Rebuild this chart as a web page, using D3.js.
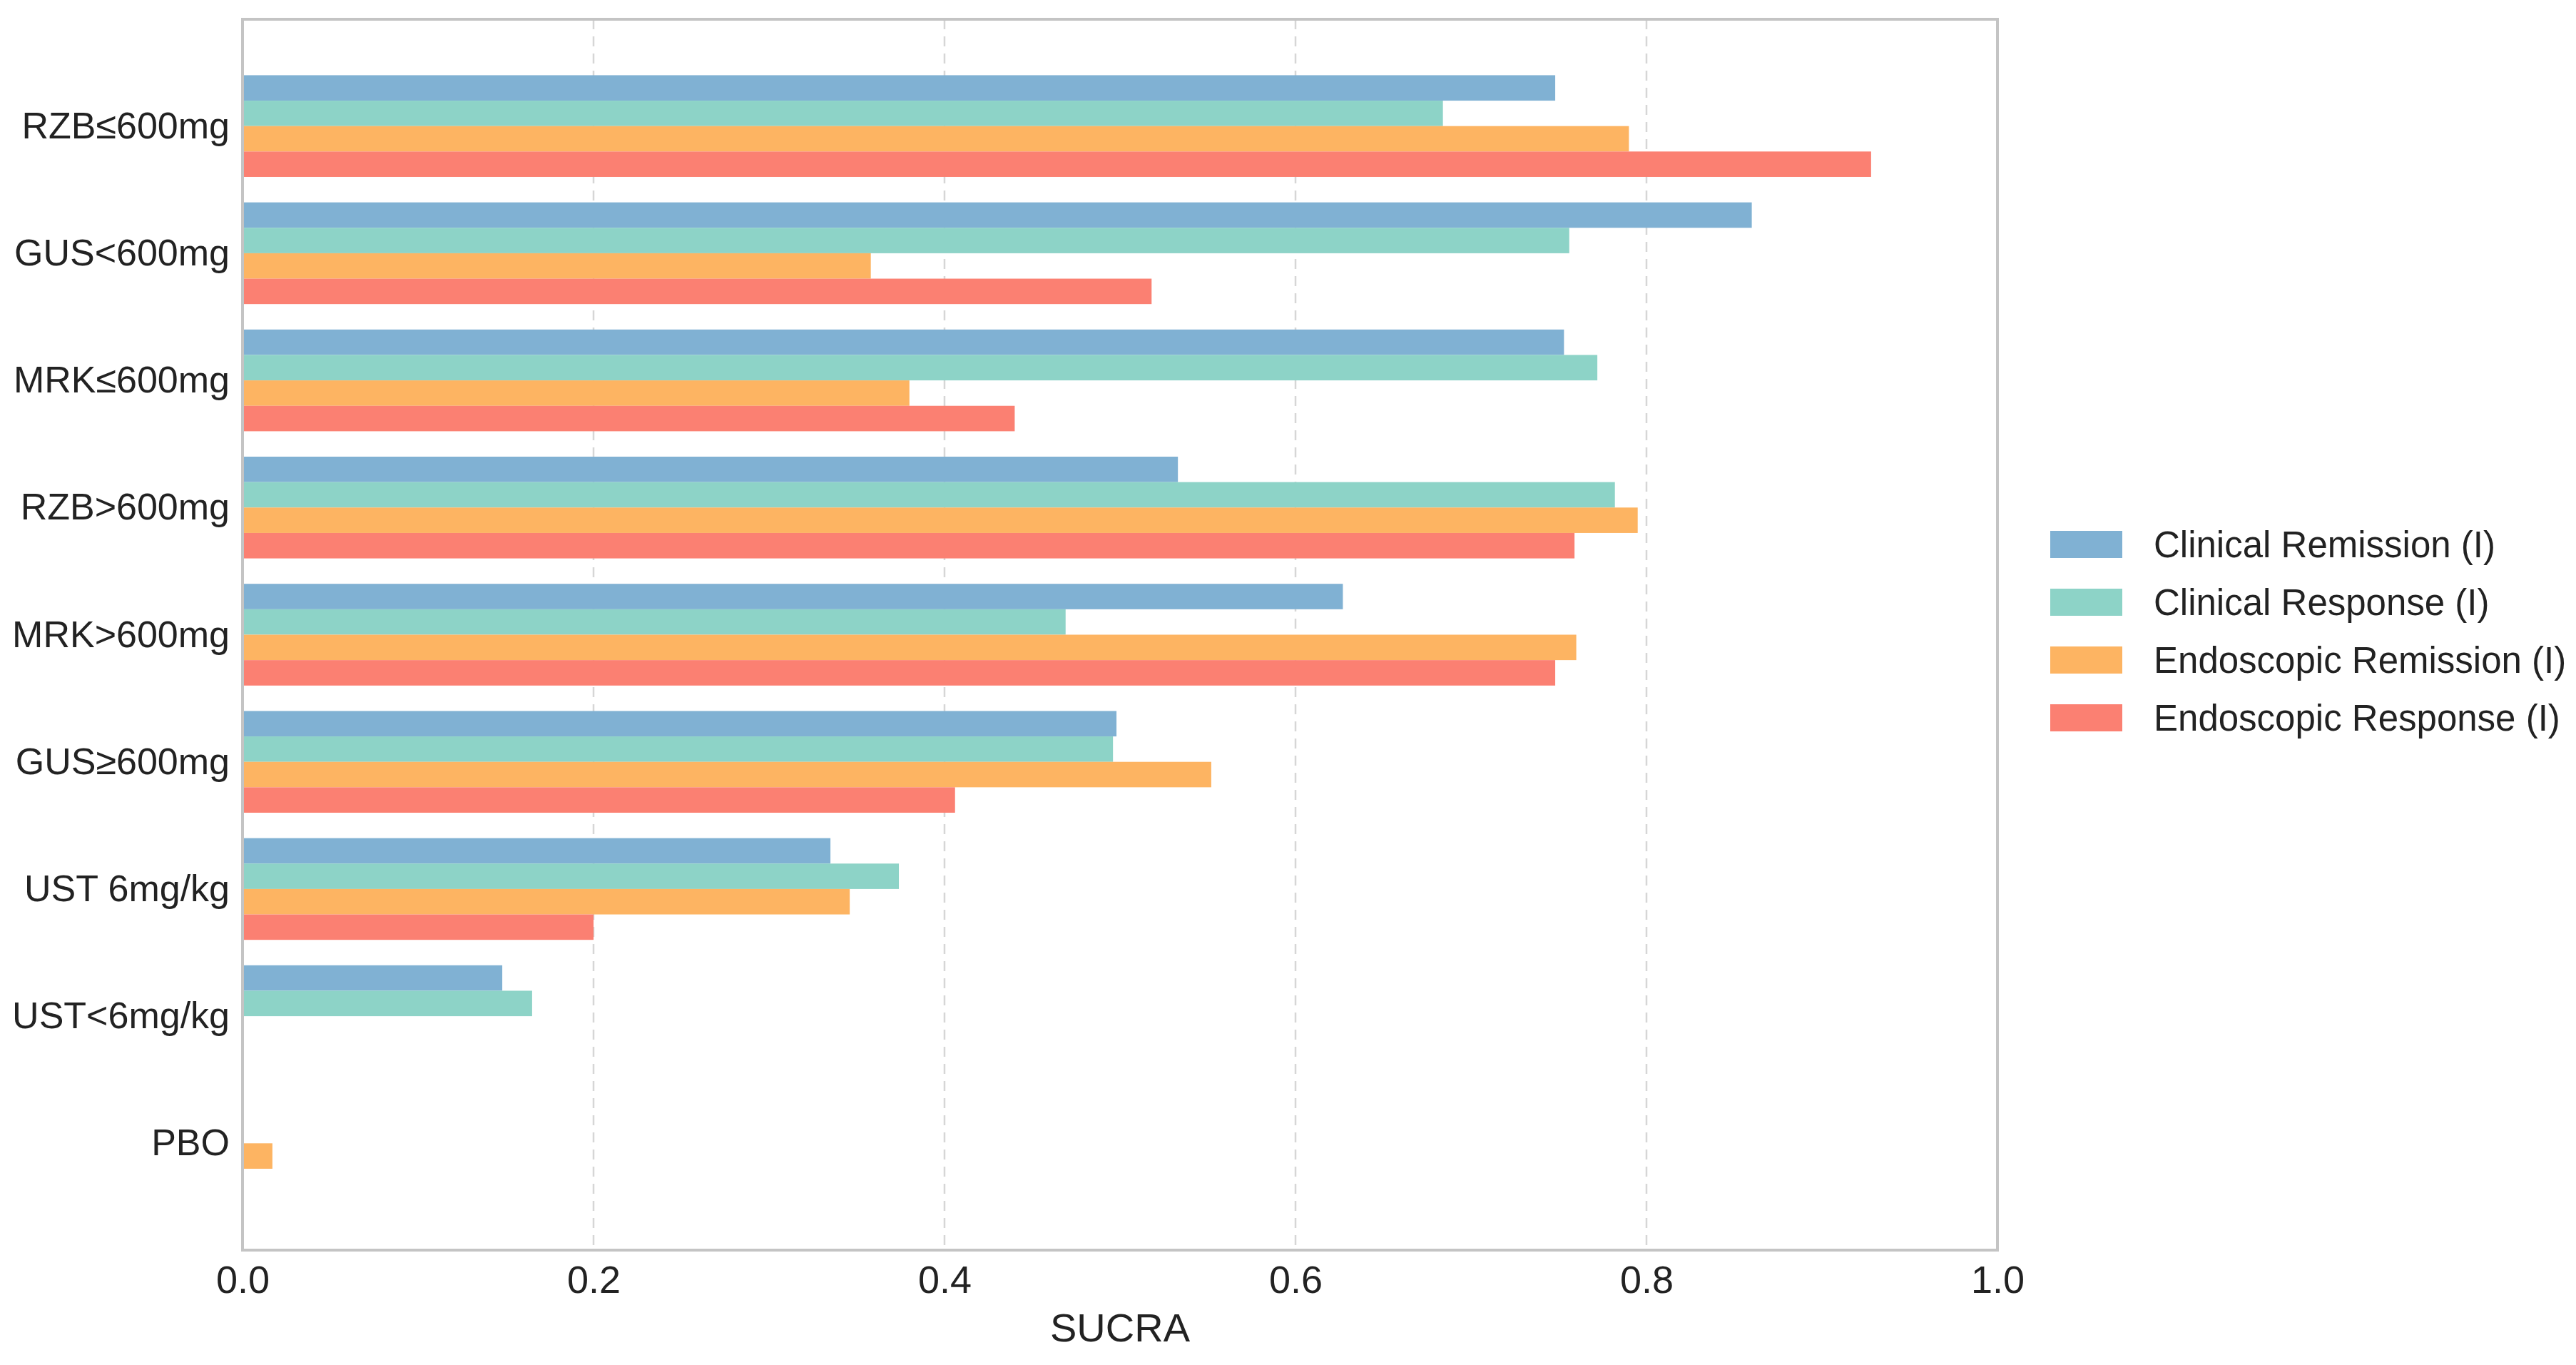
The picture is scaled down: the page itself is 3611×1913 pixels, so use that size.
<!DOCTYPE html>
<html>
<head>
<meta charset="utf-8">
<script src="https://cdn.jsdelivr.net/npm/d3@7"></script>
<style>
  body { margin: 0; background: #fff; }
  svg { display: block; font-family: "Liberation Sans", Arial, sans-serif; }
  .grid line { stroke: #d6d6d6; stroke-width: 2.5px; stroke-dasharray: 14,10; }
  .frame { fill: none; stroke: #c4c4c4; stroke-width: 4px; }
</style>
</head>
<body>
<svg id="chart" width="3611" height="1913"></svg>
<script>
// treatments, top to bottom
var categories = ["RZB\u2264600mg", "GUS<600mg", "MRK\u2264600mg", "RZB>600mg", "MRK>600mg",
  "GUS\u2265600mg", "UST 6mg/kg", "UST<6mg/kg", "PBO"];

var seriesNames = ["Clinical Remission (I)", "Clinical Response (I)",
  "Endoscopic Remission (I)", "Endoscopic Response (I)"];

// SUCRA values, one per treatment
var clinicalRemission   = [0.748, 0.860, 0.753, 0.533, 0.627, 0.498, 0.335, 0.148, 0.000];
var clinicalResponse    = [0.684, 0.756, 0.772, 0.782, 0.469, 0.496, 0.374, 0.165, 0.000];
var endoscopicRemission = [0.790, 0.358, 0.380, 0.795, 0.760, 0.552, 0.346, 0.000, 0.017];
var endoscopicResponse  = [0.928, 0.518, 0.440, 0.759, 0.748, 0.406, 0.200, 0.000, 0.000];

var xTicks = [0.0, 0.2, 0.4, 0.6, 0.8, 1.0];

var colors = ["#80b1d3", "#8dd3c7", "#fdb462", "#fb8072"];

var series = [clinicalRemission, clinicalResponse, endoscopicRemission, endoscopicResponse];

var plot = {left: 340, right: 2800, top: 27, bottom: 1752};
var barH = 0.2;

var x = d3.scaleLinear().domain([0, 1]).range([plot.left, plot.right]);
var y = d3.scaleLinear().domain([-0.84, 8.84]).range([plot.top, plot.bottom]);

var svg = d3.select("#chart");

// dashed vertical grid
svg.append("g")
  .classed("grid", true)
  .selectAll("line")
  .data(xTicks.slice(1, -1))
  .enter().append("line")
  .attr("x1", d => x(d))
  .attr("x2", d => x(d))
  .attr("y1", plot.top)
  .attr("y2", plot.bottom);

// bars
series.forEach(function(vals, j){
  svg.append("g")
    .selectAll("rect")
    .data(vals)
    .enter().append("rect")
    .attr("x", x(0))
    .attr("y", (d, i) => y(i - 0.4 + j * barH))
    .attr("width", d => x(d) - x(0))
    .attr("height", y(barH) - y(0))
    .attr("fill", colors[j]);
});

// frame
svg.append("rect")
  .classed("frame", true)
  .attr("x", plot.left)
  .attr("y", plot.top)
  .attr("width", plot.right - plot.left)
  .attr("height", plot.bottom - plot.top);

// x axis
var xAxis = svg.append("g")
  .attr("transform", "translate(0," + plot.bottom + ")")
  .call(d3.axisBottom(x).tickValues(xTicks).tickFormat(d3.format(".1f")).tickSize(0).tickPadding(22));
xAxis.select(".domain").remove();
xAxis.selectAll("text").attr("font-size", 54).attr("fill", "#222").attr("font-family", null);

svg.append("text")
  .attr("x", x(0.5))
  .attr("y", 1880)
  .attr("text-anchor", "middle")
  .attr("font-size", 56)
  .attr("fill", "#222")
  .text("SUCRA");

// y axis
var yAxis = svg.append("g")
  .attr("transform", "translate(" + plot.left + ",0)")
  .call(d3.axisLeft(y).tickValues(d3.range(categories.length)).tickFormat(i => categories[i]).tickSize(0).tickPadding(18));
yAxis.select(".domain").remove();
yAxis.selectAll("text").attr("font-size", 52).attr("fill", "#222").attr("font-family", null);

// legend
var legend = svg.append("g").attr("transform", "translate(2874,744)");
seriesNames.forEach(function(name, j){
  var row = legend.append("g").attr("transform", "translate(0," + (j * 81) + ")");
  row.append("rect")
    .attr("width", 101)
    .attr("height", 38)
    .attr("fill", colors[j]);
  row.append("text")
    .attr("x", 145)
    .attr("y", 19)
    .attr("dy", "0.35em")
    .attr("font-size", 51)
    .attr("fill", "#222")
    .text(name);
});
</script>
</body>
</html>
